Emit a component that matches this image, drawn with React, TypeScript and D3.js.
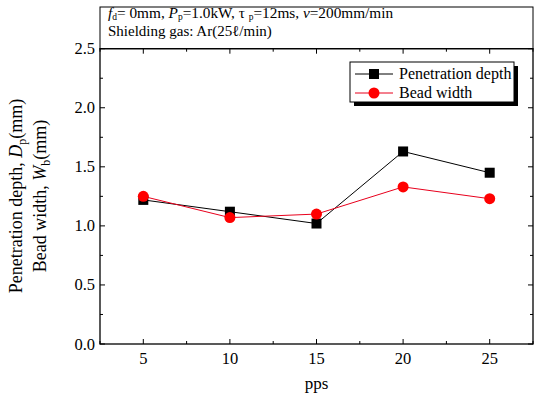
import React from "react";
import * as d3 from "d3";

const categories = [5, 10, 15, 20, 25];
const penetrationDepth = [1.22, 1.12, 1.02, 1.63, 1.45];
const beadWidth = [1.25, 1.07, 1.1, 1.33, 1.23];
const xMajorTicks = [5, 10, 15, 20, 25];
const xMinorTicks = [2.5, 7.5, 12.5, 17.5, 22.5, 27.5];
const yMajorTicks = [0, 0.5, 1.0, 1.5, 2.0, 2.5];
const yMinorTicks = [0.25, 0.75, 1.25, 1.75, 2.25];
const seriesNames = ["Penetration depth", "Bead width"];

const W = 542, H = 400;
const L = 100, R = 533, T = 48.7, B = 344;
const FONT = "Liberation Serif, Times New Roman, DejaVu Serif, serif";

export default function App() {
  const x = d3.scaleLinear().domain([2.5, 27.5]).range([L, R]);
  const y = d3.scaleLinear().domain([0, 2.5]).range([B, T]);
  const line = d3.line<number>().x((_, i) => x(categories[i])).y((d) => y(d));

  const majorLen = 5, minorLen = 3;
  const tf = { fontFamily: FONT };

  return (
    <svg width={W} height={H} style={{ position: "absolute", left: 0, top: 0, background: "#fff", fontFamily: FONT }}>
      {/* annotation box */}
      <rect x={L} y={7} width={R - L} height={T - 7} fill="white" stroke="black" strokeWidth={1} />
      <text x={108} y={18} fontSize={15.3} style={tf}>
        <tspan fontStyle="italic">f</tspan>
        <tspan fontSize={9.5} dy={2}>d</tspan>
        <tspan dy={-2}>= 0mm, </tspan>
        <tspan fontStyle="italic">P</tspan>
        <tspan fontSize={9.5} dy={2}>p</tspan>
        <tspan dy={-2}>=1.0kW, τ </tspan>
        <tspan fontSize={9.5} dy={2}>p</tspan>
        <tspan dy={-2}>=12ms, </tspan>
        <tspan fontStyle="italic">v</tspan>
        <tspan>=200mm/min</tspan>
      </text>
      <text x={108} y={36} fontSize={15} style={tf}>Shielding gas: Ar(25ℓ/min)</text>

      {/* frame */}
      <rect x={L} y={T} width={R - L} height={B - T} fill="none" stroke="black" strokeWidth={1.3} />

      {/* x ticks */}
      {xMajorTicks.map((t) => (
        <g key={"xm" + t}>
          <line x1={x(t)} x2={x(t)} y1={B} y2={B - majorLen} stroke="black" />
          <line x1={x(t)} x2={x(t)} y1={T} y2={T + majorLen} stroke="black" />
          <text x={x(t)} y={364} fontSize={16.5} textAnchor="middle" style={tf}>{t}</text>
        </g>
      ))}
      {xMinorTicks.map((t) => (
        <g key={"xn" + t}>
          <line x1={x(t)} x2={x(t)} y1={B} y2={B - minorLen} stroke="black" />
          <line x1={x(t)} x2={x(t)} y1={T} y2={T + minorLen} stroke="black" />
        </g>
      ))}
      {/* y ticks */}
      {yMajorTicks.map((t) => (
        <g key={"ym" + t}>
          <line x1={L} x2={L + majorLen} y1={y(t)} y2={y(t)} stroke="black" />
          <line x1={R} x2={R - majorLen} y1={y(t)} y2={y(t)} stroke="black" />
          <text x={95} y={y(t) + 5.5} fontSize={16.5} textAnchor="end" style={tf}>{t.toFixed(1)}</text>
        </g>
      ))}
      {yMinorTicks.map((t) => (
        <g key={"yn" + t}>
          <line x1={L} x2={L + minorLen} y1={y(t)} y2={y(t)} stroke="black" />
          <line x1={R} x2={R - minorLen} y1={y(t)} y2={y(t)} stroke="black" />
        </g>
      ))}

      {/* axis titles */}
      <text x={(L + R) / 2} y={389} fontSize={17} textAnchor="middle" style={tf}>pps</text>
      <text transform={`translate(22,196) rotate(-90)`} fontSize={18} textAnchor="middle" style={tf}>
        <tspan>Penetration depth, </tspan>
        <tspan fontStyle="italic">D</tspan>
        <tspan fontSize={12} dy={4}>p</tspan>
        <tspan dy={-4}>(mm)</tspan>
      </text>
      <text transform={`translate(46,196) rotate(-90)`} fontSize={18} textAnchor="middle" style={tf}>
        <tspan>Bead width, </tspan>
        <tspan fontStyle="italic">W</tspan>
        <tspan fontSize={12} dy={4}>b</tspan>
        <tspan dy={-4}>(mm)</tspan>
      </text>

      {/* series */}
      <path d={line(penetrationDepth) || ""} fill="none" stroke="black" strokeWidth={1} />
      <path d={line(beadWidth) || ""} fill="none" stroke="#e8001c" strokeWidth={1} />
      {penetrationDepth.map((v, i) => (
        <rect key={"p" + i} x={x(categories[i]) - 5} y={y(v) - 5} width={10} height={10} fill="black" />
      ))}
      {beadWidth.map((v, i) => (
        <circle key={"b" + i} cx={x(categories[i])} cy={y(v)} r={5.5} fill="red" />
      ))}

      {/* legend */}
      <rect x={354} y={66} width={164} height={40} fill="black" />
      <rect x={350} y={62} width={164} height={40} fill="white" stroke="black" strokeWidth={1} />
      <line x1={355} x2={393} y1={74} y2={74} stroke="black" />
      <rect x={369} y={69} width={10} height={10} fill="black" />
      <text x={399} y={79} fontSize={16} style={tf}>{seriesNames[0]}</text>
      <line x1={355} x2={393} y1={93} y2={93} stroke="#e8001c" />
      <circle cx={374} cy={93} r={5.5} fill="red" />
      <text x={399} y={98} fontSize={16} style={tf}>{seriesNames[1]}</text>
    </svg>
  );
}
